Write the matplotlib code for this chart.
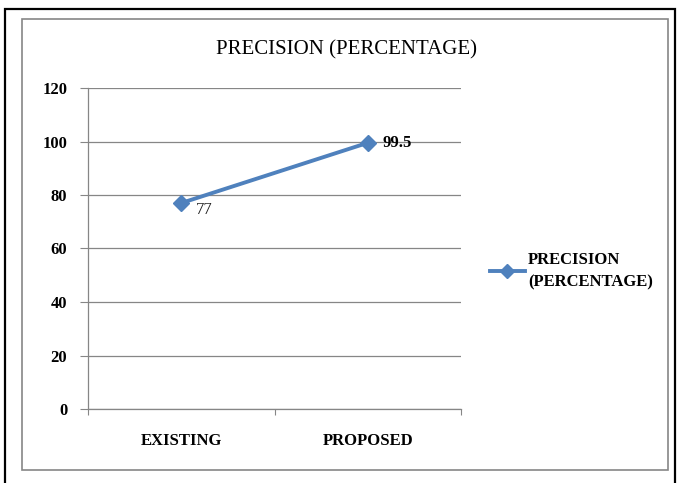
import matplotlib.pyplot as plt
from matplotlib.patches import Rectangle
from matplotlib.lines import Line2D

categories = ["EXISTING", "PROPOSED"]
precision = [77, 99.5]
value_labels = ["77", "99.5"]
series_name = "PRECISION\n(PERCENTAGE)"
title = "PRECISION (PERCENTAGE)"
yticks = [0, 20, 40, 60, 80, 100, 120]

W, H = 677, 483
BLUE = "#4F81BD"
plt.rcParams["font.family"] = ["Liberation Serif", "DejaVu Serif"]

fig = plt.figure(figsize=(W / 100, H / 100), dpi=100)


def fx(px):
    return px / W


def fy(py):
    return 1 - py / H


# outer black frame and inner grey chart border
fig.patches.append(Rectangle((fx(5), fy(490)), fx(670), 481 / H, transform=fig.transFigure,
                             fill=False, edgecolor="black", linewidth=1.6))
fig.patches.append(Rectangle((fx(22), fy(470)), fx(646), 451 / H, transform=fig.transFigure,
                             fill=False, edgecolor="#868686", linewidth=1.2))

ax = fig.add_axes([fx(88), fy(409), fx(461 - 88), (409 - 88) / H])
x = [0.5, 1.5]
ax.plot(x, precision, color=BLUE, linewidth=2.8, marker="D", markersize=8.5,
        markeredgecolor=BLUE, zorder=3)
ax.text(x[0] + 0.08, precision[0] + 0.5, value_labels[0], fontsize=12, va="top",
        ha="left", color="#222222")
ax.text(x[1] + 0.08, precision[1], value_labels[1], fontsize=12, va="center",
        ha="left", fontweight="bold")

ax.set_xlim(0, 2)
ax.set_ylim(0, 120)
ax.set_yticks(yticks)
ax.set_yticklabels([str(t) for t in yticks], fontsize=12, fontweight="bold")
ax.set_xticks([0, 1, 2])
ax.set_xticklabels([])
ax.set_xticks(x, minor=True)
ax.set_xticklabels(categories, minor=True, fontsize=12, fontweight="bold")
ax.tick_params(axis="x", which="minor", length=0, pad=17)
ax.tick_params(axis="x", which="major", length=4, color="#868686", direction="out")
ax.tick_params(axis="y", length=6, color="#868686", pad=9)
ax.grid(axis="y", color="#868686", linewidth=0.9)
ax.set_axisbelow(True)
for s in ["top", "right"]:
    ax.spines[s].set_visible(False)
for s in ["left", "bottom"]:
    ax.spines[s].set_color("#868686")
    ax.spines[s].set_linewidth(0.9)

fig.text(fx(346), fy(50), title, fontsize=15, ha="center", va="center")

handle = Line2D([], [], color=BLUE, linewidth=2.8, marker="D", markersize=7)
leg = fig.legend([handle], [series_name], loc="center left",
                 bbox_to_anchor=(fx(483), fy(271)), frameon=False,
                 prop={"size": 12, "weight": "bold"}, handlelength=2.1,
                 handletextpad=0.2, borderaxespad=0)
for t in leg.get_texts():
    t.set_linespacing(1.5)

fig.savefig("out.png", dpi=100)
